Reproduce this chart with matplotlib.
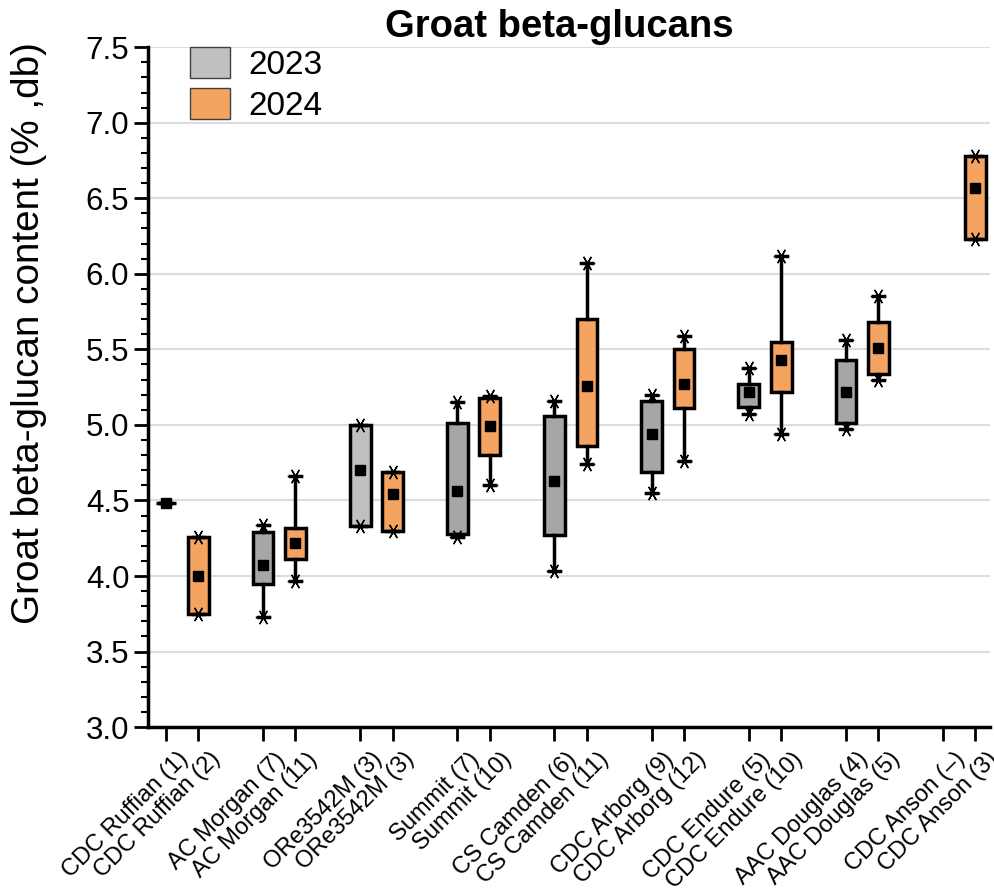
import matplotlib
matplotlib.use("Agg")
import matplotlib.pyplot as plt
import matplotlib.transforms as mtransforms
from matplotlib.patches import Patch
import numpy as np

plt.rcParams['font.family'] = ['Liberation Sans', 'DejaVu Sans']

# cultivars, n per year in the tick labels
cultivars = ['CDC Ruffian', 'AC Morgan', 'ORe3542M', 'Summit', 'CS Camden',
             'CDC Arborg', 'CDC Endure', 'AAC Douglas', 'CDC Anson']
n_2023 = ['1', '7', '3', '7', '6', '9', '5', '4', '\u2013']
n_2024 = ['2', '11', '3', '10', '11', '12', '10', '5', '3']

# 2023 stats (None = no data)
lo_2023 = [4.48, 3.73, 4.33, 4.26, 4.03, 4.55, 5.07, 4.97, None]
q1_2023 = [4.48, 3.95, 4.33, 4.28, 4.27, 4.69, 5.12, 5.01, None]
q3_2023 = [4.48, 4.29, 5.00, 5.01, 5.06, 5.16, 5.27, 5.43, None]
hi_2023 = [4.48, 4.34, 5.00, 5.15, 5.16, 5.20, 5.38, 5.56, None]
mean_2023 = [4.48, 4.07, 4.70, 4.56, 4.63, 4.94, 5.22, 5.22, None]
fill_2023 = ['#a6a6a6', '#a6a6a6', '#c0c0c0', '#a6a6a6', '#a6a6a6',
             '#a6a6a6', '#a6a6a6', '#a6a6a6', '#a6a6a6']

# 2024 stats
lo_2024 = [3.75, 3.97, 4.30, 4.60, 4.74, 4.76, 4.94, 5.30, 6.23]
q1_2024 = [3.75, 4.11, 4.30, 4.80, 4.86, 5.11, 5.22, 5.34, 6.23]
q3_2024 = [4.26, 4.32, 4.69, 5.18, 5.70, 5.50, 5.55, 5.68, 6.78]
hi_2024 = [4.26, 4.66, 4.69, 5.19, 6.07, 5.59, 6.12, 5.85, 6.78]
mean_2024 = [4.00, 4.22, 4.545, 4.99, 5.26, 5.27, 5.43, 5.51, 6.57]
fill_2024 = '#f4a460'

fig = plt.figure(figsize=(9.94, 8.9), dpi=100)
ax = fig.add_axes([0.149, 0.183, 0.847, 0.764])

pos_2023 = [3 * i + 1 for i in range(len(cultivars))]
pos_2024 = [3 * i + 2 for i in range(len(cultivars))]

def draw(pos, lo, q1, q3, hi, mean, fills):
    stats, ps, cols = [], [], []
    for p, a, b, c, d, m, f in zip(pos, lo, q1, q3, hi, mean, fills):
        if a is None:
            continue
        stats.append(dict(whislo=a, q1=b, med=m, q3=c, whishi=d, mean=m, fliers=[]))
        ps.append(p)
        cols.append(f)
    bp = ax.bxp(stats, positions=ps, widths=0.64, patch_artist=True,
                showmeans=True, showfliers=False, capwidths=0.34,
                boxprops=dict(edgecolor='black', linewidth=2.5),
                whiskerprops=dict(color='black', linewidth=2.5),
                capprops=dict(color='black', linewidth=2.5),
                medianprops=dict(linewidth=0),
                meanprops=dict(marker='s', markersize=6.5, markerfacecolor='black',
                               markeredgecolor='black'),
                zorder=3)
    for box, c in zip(bp['boxes'], cols):
        box.set_facecolor(c)
    for s, p in zip(stats, ps):
        if s['whislo'] == s['whishi']:
            continue
        ax.plot([p, p], [s['whislo'], s['whishi']], linestyle='none',
                marker=(6, 2, 90), markersize=11, color='black',
                markeredgewidth=1.0, zorder=4)

draw(pos_2023, lo_2023, q1_2023, q3_2023, hi_2023, mean_2023, fill_2023)
draw(pos_2024, lo_2024, q1_2024, q3_2024, hi_2024, mean_2024,
     [fill_2024] * len(cultivars))

ticks = []
labels = []
for i, name in enumerate(cultivars):
    ticks += [pos_2023[i], pos_2024[i]]
    labels += [f'{name} ({n_2023[i]})', f'{name} ({n_2024[i]})']
ax.set_xticks(ticks)
ax.set_xticklabels([''] * len(ticks))
# rotated labels, pushed down-right of each tick like the original
shift = mtransforms.ScaledTranslation(11 / 100, -21 / 100, fig.dpi_scale_trans)
for t, lab in zip(ticks, labels):
    ax.text(t, 0, lab, transform=ax.get_xaxis_transform() + shift,
            rotation=45, ha='right', va='top', rotation_mode='anchor',
            fontsize=17, clip_on=False)
ax.set_xlim(0.45, 26.45)

ax.set_ylim(3.0, 7.5)
ax.set_yticks(np.arange(3.0, 7.51, 0.5))
ax.set_yticks(np.arange(3.0, 7.51, 0.1), minor=True)
ax.yaxis.set_major_formatter(matplotlib.ticker.FormatStrFormatter('%.1f'))
ax.tick_params(axis='y', which='major', labelsize=22.5, length=10, width=2)
ax.tick_params(axis='y', which='minor', length=5, width=1.5)
ax.tick_params(axis='x', which='major', length=10, width=2)

ax.grid(axis='y', color='#dcdcdc', linewidth=1.5, zorder=0)
ax.set_axisbelow(True)
for s in ['top', 'right']:
    ax.spines[s].set_visible(False)
for s in ['left', 'bottom']:
    ax.spines[s].set_linewidth(2.5)

ax.set_ylabel('Groat beta-glucan content (% ,db)', fontsize=27.8)
ax.yaxis.set_label_coords(-0.12, 0.58)
ax.set_title('Groat beta-glucans', fontsize=27.5, fontweight='bold', x=0.488, pad=7)

handles = [Patch(facecolor='#c0c0c0', edgecolor='#404040', linewidth=1),
           Patch(facecolor=fill_2024, edgecolor='#404040', linewidth=1)]
ax.legend(handles, ['2023', '2024'], loc='upper left', bbox_to_anchor=(0.05, 1.0),
          frameon=False, fontsize=24, handlelength=1.2, handleheight=1.05,
          handletextpad=0.55, labelspacing=0.22, borderpad=0, borderaxespad=0)

fig.savefig('out.png', dpi=100)
